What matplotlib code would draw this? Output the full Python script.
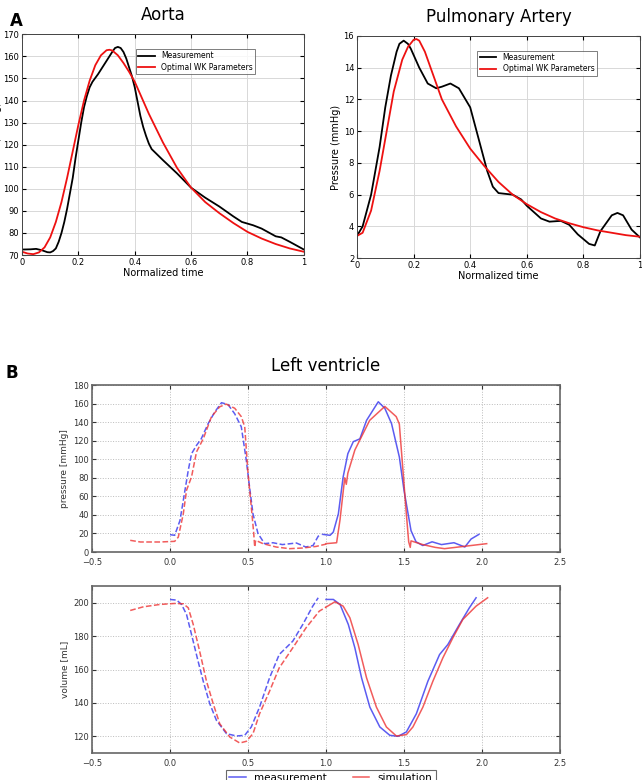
import matplotlib
matplotlib.use("Agg")
import matplotlib.pyplot as plt

# --- A: Aorta (normalized time, mmHg)
aorta_t = [0.0, 0.03, 0.05, 0.07, 0.09, 0.1, 0.11, 0.12, 0.13, 0.14, 0.15, 0.16, 0.17,
           0.18, 0.19, 0.2, 0.21, 0.22, 0.23, 0.24, 0.25, 0.27, 0.29, 0.31, 0.32, 0.33,
           0.34, 0.35, 0.36, 0.37, 0.38, 0.39, 0.4, 0.41, 0.42, 0.43, 0.44, 0.45, 0.46,
           0.48, 0.5, 0.55, 0.6, 0.65, 0.7, 0.75, 0.78, 0.82, 0.85, 0.9, 0.92, 0.95, 1.0]
aorta_meas = [72.5, 72.6, 72.8, 72.2, 71.3, 71.2, 71.8, 73, 76, 80, 85, 91, 98,
              105, 114, 122, 130, 137, 142, 146, 148.5, 152, 156, 160, 162, 163.8,
              164.3, 163.8, 162, 159, 155, 151, 146, 139.5, 133, 128, 124, 120.5, 118,
              115.5, 113, 107, 100.5, 96, 92, 87.5, 85, 83.5, 82, 78.5, 78, 76, 72.5]
aorta_t_wk = [0.0, 0.02, 0.04, 0.06, 0.08, 0.1, 0.12, 0.14, 0.16, 0.18, 0.2, 0.22, 0.24,
              0.26, 0.28, 0.3, 0.31, 0.32, 0.34, 0.36, 0.38, 0.4, 0.45, 0.5, 0.55, 0.6,
              0.65, 0.7, 0.75, 0.8, 0.85, 0.9, 0.95, 1.0]
aorta_wk = [71.5, 70.7, 70.4, 71.2, 73.5, 78, 85, 94, 105, 117, 129, 140, 149,
            156, 160.5, 162.8, 163, 162.7, 160.5, 157, 153, 148.5, 134, 121, 109.5, 100.5,
            94, 89, 84.5, 80.5, 77.5, 75, 73, 71.5]

# --- A: Pulmonary artery
pa_t = [0.0, 0.02, 0.05, 0.08, 0.1, 0.12, 0.14, 0.15, 0.165, 0.18, 0.19, 0.22, 0.25,
        0.28, 0.3, 0.33, 0.36, 0.4, 0.43, 0.46, 0.48, 0.5, 0.55, 0.58, 0.6, 0.65, 0.68,
        0.72, 0.75, 0.78, 0.82, 0.84, 0.86, 0.9, 0.92, 0.94, 0.97, 1.0]
pa_meas = [3.4, 4, 6, 9, 11.5, 13.5, 15, 15.5, 15.7, 15.5, 15.2, 14, 13,
           12.7, 12.8, 13, 12.7, 11.5, 9.5, 7.5, 6.5, 6.1, 6, 5.7, 5.3, 4.5, 4.3,
           4.35, 4.1, 3.5, 2.9, 2.8, 3.7, 4.7, 4.85, 4.7, 3.8, 3.3]
pa_t_wk = [0.0, 0.02, 0.05, 0.08, 0.1, 0.13, 0.16, 0.18, 0.2, 0.21, 0.22, 0.24, 0.26,
           0.3, 0.35, 0.4, 0.45, 0.5, 0.55, 0.6, 0.65, 0.7, 0.75, 0.8, 0.85, 0.9, 0.95,
           1.0]
pa_wk = [3.4, 3.6, 5, 7.5, 9.5, 12.5, 14.5, 15.3, 15.75, 15.8, 15.7, 15.0, 14,
         12, 10.3, 8.9, 7.8, 6.8, 6, 5.4, 4.9, 4.5, 4.2, 3.95, 3.75, 3.6, 3.45, 3.35]

# --- B: Left ventricle pressure
p_meas1_t = [0.0, 0.03, 0.064, 0.096, 0.117, 0.138, 0.17, 0.2, 0.245, 0.287, 0.33,
             0.372, 0.415, 0.457, 0.489, 0.51, 0.532, 0.564, 0.606, 0.66, 0.72, 0.81,
             0.87, 0.917, 0.95, 0.97]
p_meas1 = [18.7, 18, 34, 66.6, 88, 106, 115, 122, 138.6, 151, 161,
           159, 149, 135, 99, 70, 41, 20, 9, 10, 8, 9.7,
           5.4, 7, 17, 19]
p_sim1_t = [-0.255, -0.19, -0.064, 0.03, 0.053, 0.085, 0.106, 0.138, 0.17, 0.213,
            0.266, 0.319, 0.36, 0.415, 0.457, 0.479, 0.5, 0.521, 0.536, 0.543, 0.549,
            0.596, 0.68, 0.766, 0.85, 0.936, 1.0]
p_sim1 = [12.6, 10.8, 10.8, 11.5, 16, 41, 66.6, 81, 108, 122,
          146, 156.6, 159.5, 155, 146, 135, 85, 48.6, 21.6, 5.4, 12.6,
          9, 5.4, 3.6, 4.3, 6, 8.5]
p_meas2_t = [0.98, 1.026, 1.047, 1.079, 1.11, 1.14, 1.175, 1.217, 1.26, 1.335, 1.377,
             1.42, 1.47, 1.5, 1.545, 1.577, 1.62, 1.68, 1.74, 1.82, 1.89, 1.93, 1.98]
p_meas2 = [19, 18, 21.6, 41, 81, 106, 119, 122, 142, 162, 155,
           138.5, 102.5, 66.5, 23, 11, 7, 11, 8, 10, 5.4, 14, 19]
p_sim2_t = [1.0, 1.068, 1.09, 1.12, 1.13, 1.14, 1.185, 1.28, 1.377, 1.45, 1.47, 1.49,
            1.515, 1.53, 1.54, 1.545, 1.62, 1.7, 1.76, 1.85, 2.03]
p_sim2 = [9, 10, 35, 80, 73, 85, 110, 142, 157, 146, 138, 95,
          41, 11, 5, 12, 8, 5, 3.6, 5.4, 9]

# --- B: Left ventricle volume
v_meas1_t = [0.0, 0.043, 0.074, 0.106, 0.138, 0.18, 0.213, 0.255, 0.298, 0.362, 0.426,
             0.479, 0.521, 0.574, 0.638, 0.7, 0.787, 0.851, 0.915, 0.95]
v_meas1 = [202, 201.6, 199, 193, 181, 165, 153, 139.5, 129.5, 121.6, 120.2,
           120.6, 125.6, 137.5, 155, 169, 177, 187, 198, 203]
v_sim1_t = [-0.255, -0.17, -0.064, 0.03, 0.085, 0.117, 0.149, 0.19, 0.234, 0.277,
            0.319, 0.383, 0.447, 0.489, 0.532, 0.574, 0.638, 0.7, 0.787, 0.872,
            0.957, 1.0]
v_sim1 = [195.4, 197.6, 199, 199.6, 199.4, 197, 187, 171, 153, 139.5,
          127.5, 119.6, 116, 117, 121.6, 133.5, 147, 161, 173, 185,
          195, 197.4]
v_meas2_t = [1.0, 1.047, 1.09, 1.143, 1.185, 1.228, 1.281, 1.345, 1.409, 1.462, 1.515,
             1.579, 1.653, 1.728, 1.781, 1.855, 1.919, 1.962]
v_meas2 = [202, 202, 199, 187, 173, 155, 137.5, 125.6, 120.6, 120, 122.6,
           133.5, 153, 169, 175, 187, 197, 203]
v_sim2_t = [1.0, 1.057, 1.11, 1.153, 1.206, 1.26, 1.323, 1.387, 1.451, 1.515, 1.557,
            1.621, 1.685, 1.749, 1.813, 1.877, 1.962, 2.036]
v_sim2 = [197.4, 200.6, 198, 191, 175, 155, 137.5, 125.6, 120.2, 121, 125.6,
          137.5, 153, 167, 179, 190, 198, 203]

fig = plt.figure(figsize=(6.42, 7.8), dpi=100)
fig.patch.set_facecolor("white")

def matlab_axes(ax):
    ax.grid(True, color="#d8d8d8", linewidth=0.7)
    ax.set_axisbelow(True)
    ax.tick_params(direction="in", top=True, right=True, labelsize=6, length=3, pad=2)
    for s in ax.spines.values():
        s.set_color("#444444")
        s.set_linewidth(0.7)

# Aorta
ax1 = fig.add_axes([0.0343, 0.673, 0.439, 0.283])
ax1.plot(aorta_t, aorta_meas, color="black", lw=1.3, label="Measurement")
ax1.plot(aorta_t_wk, aorta_wk, color="#ee1111", lw=1.3, label="Optimal WK Parameters")
ax1.set_xlim(0, 1)
ax1.set_ylim(70, 170)
ax1.set_xticks([0, 0.2, 0.4, 0.6, 0.8, 1])
ax1.set_xticklabels(["0", "0.2", "0.4", "0.6", "0.8", "1"])
ax1.set_yticks(range(70, 171, 10))
matlab_axes(ax1)
ax1.set_xlabel("Normalized time", fontsize=7, labelpad=1)
ax1.set_ylabel("Pressure (mmHg)", fontsize=7, labelpad=1)
ax1.set_title("Aorta", fontsize=12, pad=10)
ax1.legend(loc="upper right", bbox_to_anchor=(0.84, 0.95), fontsize=5.5, frameon=True,
           fancybox=False, edgecolor="#444444", borderpad=0.3, handlelength=2.2,
           labelspacing=0.3).get_frame().set_linewidth(0.6)

# Pulmonary artery
ax2 = fig.add_axes([0.556, 0.669, 0.441, 0.285])
ax2.plot(pa_t, pa_meas, color="black", lw=1.3, label="Measurement")
ax2.plot(pa_t_wk, pa_wk, color="#ee1111", lw=1.3, label="Optimal WK Parameters")
ax2.set_xlim(0, 1)
ax2.set_ylim(2, 16)
ax2.set_xticks([0, 0.2, 0.4, 0.6, 0.8, 1])
ax2.set_xticklabels(["0", "0.2", "0.4", "0.6", "0.8", "1"])
ax2.set_yticks(range(2, 17, 2))
matlab_axes(ax2)
ax2.set_xlabel("Normalized time", fontsize=7, labelpad=1)
ax2.set_ylabel("Pressure (mmHg)", fontsize=7, labelpad=2)
ax2.set_title("Pulmonary Artery", fontsize=12, pad=10)
ax2.legend(loc="upper right", bbox_to_anchor=(0.86, 0.95), fontsize=5.5, frameon=True,
           fancybox=False, edgecolor="#444444", borderpad=0.3, handlelength=2.2,
           labelspacing=0.3).get_frame().set_linewidth(0.6)

fig.text(0.015, 0.985, "A", fontsize=12, fontweight="bold", va="top")
fig.text(0.008, 0.533, "B", fontsize=12, fontweight="bold", va="top")

def classic_axes(ax):
    ax.grid(True, color="#bbbbbb", linestyle=":", linewidth=0.7)
    ax.tick_params(direction="in", top=True, right=True, labelsize=6, length=3, pad=2,
                   colors="#333333")
    ax.tick_params(axis="x", pad=4)
    for s in ax.spines.values():
        s.set_color("#666666")
        s.set_linewidth(1.2)

blue = "#3333ee"
red = "#ee3333"

# LV pressure
ax3 = fig.add_axes([0.1433, 0.2923, 0.729, 0.214])
ax3.plot(p_meas1_t, p_meas1, color=blue, lw=1.1, ls="--", alpha=0.8)
ax3.plot(p_sim1_t, p_sim1, color=red, lw=1.1, ls="--", alpha=0.8)
ax3.plot(p_meas2_t, p_meas2, color=blue, lw=1.1, alpha=0.8)
ax3.plot(p_sim2_t, p_sim2, color=red, lw=1.1, alpha=0.8)
ax3.set_xlim(-0.5, 2.5)
ax3.set_ylim(0, 180)
ax3.set_yticks(range(0, 181, 20))
ax3.set_xticks([-0.5, 0, 0.5, 1, 1.5, 2, 2.5])
classic_axes(ax3)
ax3.set_ylabel("pressure [mmHg]", fontsize=6.5, labelpad=3, color="#333333")
ax3.set_title("Left ventricle", fontsize=12, pad=10)

# LV volume
ax4 = fig.add_axes([0.1433, 0.0346, 0.729, 0.214])
ax4.plot(v_meas1_t, v_meas1, color=blue, lw=1.1, ls="--", alpha=0.8)
ax4.plot(v_sim1_t, v_sim1, color=red, lw=1.1, ls="--", alpha=0.8)
ax4.plot(v_meas2_t, v_meas2, color=blue, lw=1.1, alpha=0.8, label="measurement")
ax4.plot(v_sim2_t, v_sim2, color=red, lw=1.1, alpha=0.8, label="simulation")
ax4.set_xlim(-0.5, 2.5)
ax4.set_ylim(110, 210)
ax4.set_yticks(range(120, 201, 20))
ax4.set_xticks([-0.5, 0, 0.5, 1, 1.5, 2, 2.5])
classic_axes(ax4)
ax4.set_ylabel("volume [mL]", fontsize=6.5, labelpad=3, color="#333333")
leg = ax4.legend(loc="upper center", bbox_to_anchor=(0.51, -0.07), ncol=2, fontsize=7.5,
                 frameon=True, fancybox=False, edgecolor="#444444", borderpad=0.3,
                 handlelength=1.6, columnspacing=2.5)
leg.get_frame().set_linewidth(0.8)

fig.savefig("out.png", dpi=100)
